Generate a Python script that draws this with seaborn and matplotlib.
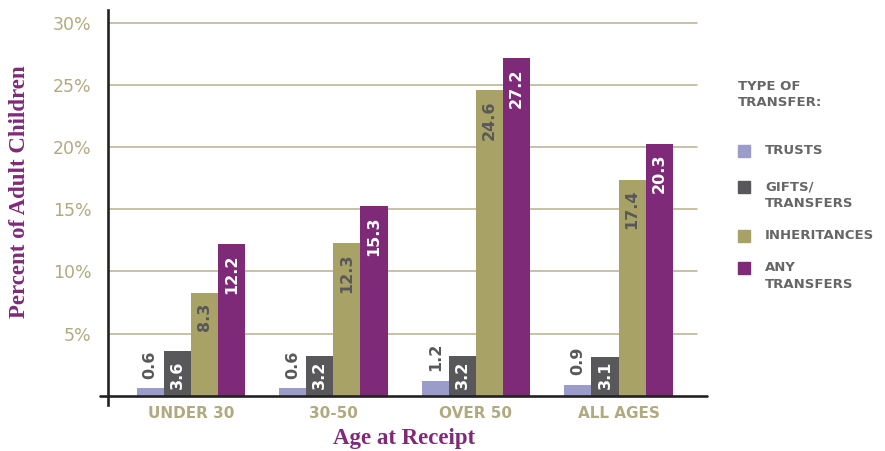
import matplotlib
matplotlib.use("Agg")
import matplotlib.pyplot as plt
import seaborn as sns
import pandas as pd
from matplotlib.patches import Rectangle

# data
ages = ["Under 30", "30-50", "Over 50", "All Ages"]
transfer_types = ["Trusts", "Gifts/\nTransfers", "Inheritances", "Any\nTransfers"]
trusts = [0.6, 0.6, 1.2, 0.9]
gifts = [3.6, 3.2, 3.2, 3.1]
inheritances = [8.3, 12.3, 24.6, 17.4]
any_transfers = [12.2, 15.3, 27.2, 20.3]
y_ticks = [5, 10, 15, 20, 25, 30]

series = [trusts, gifts, inheritances, any_transfers]
colors = ["#9c9ccb", "#58585a", "#a9a266", "#7e2a78"]
label_colors = ["#58585a", "white", "#58585a", "white"]
khaki = "#b1aa80"
grid_color = "#b8b28e"
purple = "#7e2a78"
gray = "#666666"

df = pd.DataFrame({
    "age": ages * len(series),
    "type": [t for t in transfer_types for _ in ages],
    "pct": [v for s in series for v in s],
})

sns.set_style("white")
plt.rcParams["font.family"] = ["DejaVu Sans"]

W, H = 885, 451
fig = plt.figure(figsize=(W / 100, H / 100), dpi=100)
ax = fig.add_axes([108 / W, 46 / H, 599 / W, 395 / H])

sns.barplot(data=df, x="age", y="pct", hue="type", hue_order=transfer_types,
            palette=colors, width=0.76, saturation=1, errorbar=None,
            linewidth=0, legend=False, ax=ax)

ax.set_xlim(-0.58, 3.62)
ax.set_ylim(-0.75, 31.05)

# grid lines behind the bars
for t in y_ticks:
    ax.axhline(t, xmax=589 / 599, color=grid_color, lw=1.1, zorder=0.5)
ax.axhline(0, xmin=-8 / 599, color="#222222", lw=1.9, zorder=3, clip_on=False)

# value labels, rotated: trusts above the bar, gifts at the base,
# the two tall series just inside the top
for i, cont in enumerate(ax.containers):
    for bar, v in zip(cont, series[i]):
        x = bar.get_x() + bar.get_width() / 2
        h = bar.get_height()
        if i == 0:
            y, off, va = h, 7, "bottom"
        elif i == 1:
            y, off, va = 0, 4.5, "bottom"
        else:
            y, off, va = h, -7.5, "top"
        ax.annotate(f"{v:.1f}", (x, y), xytext=(0, off), textcoords="offset points",
                    rotation=90, ha="center", va=va, fontsize=11.5, fontweight="bold",
                    color=label_colors[i], zorder=4)

for s in ["top", "right", "bottom"]:
    ax.spines[s].set_visible(False)
ax.spines["left"].set_color("#222222")
ax.spines["left"].set_linewidth(1.9)

ax.set_xticks(range(len(ages)))
ax.set_xticklabels([a.upper() for a in ages], color=khaki, fontsize=11,
                   fontweight="bold")
ax.tick_params(axis="x", length=0, pad=1)
ax.set_yticks(y_ticks)
ax.set_yticklabels([f"{t}%" for t in y_ticks])
ax.tick_params(axis="y", length=8, width=1.1, color=grid_color, pad=4,
               labelsize=12.5, labelcolor=khaki)

ax.set_ylabel("Percent of Adult Children", family="Liberation Serif",
              fontweight="bold", fontsize=16.5, color=purple)
ax.yaxis.set_label_coords(-0.131, 0.54)
ax.set_xlabel("Age at Receipt", family="Liberation Serif",
              fontweight="bold", fontsize=16.5, color=purple)
ax.xaxis.set_label_coords(0.494, -0.058)

# legend drawn by hand to match the layout
fig.text(738 / W, 1 - 80 / H, "TYPE OF\nTRANSFER:", color=gray, fontsize=9.5,
         fontweight="bold", va="top", ha="left", linespacing=1.25)
entry_y = [151, 187, 236, 268]
for color, label, yc in zip(colors, transfer_types, entry_y):
    fig.patches.append(Rectangle((738 / W, 1 - (yc + 6) / H), 12 / W, 12 / H,
                                 transform=fig.transFigure, color=color))
    fig.text(765 / W, 1 - (yc - 7) / H, label.upper(), color=gray, fontsize=9.5,
             fontweight="bold", va="top", ha="left", linespacing=1.4)

fig.savefig("out.png", dpi=100)
